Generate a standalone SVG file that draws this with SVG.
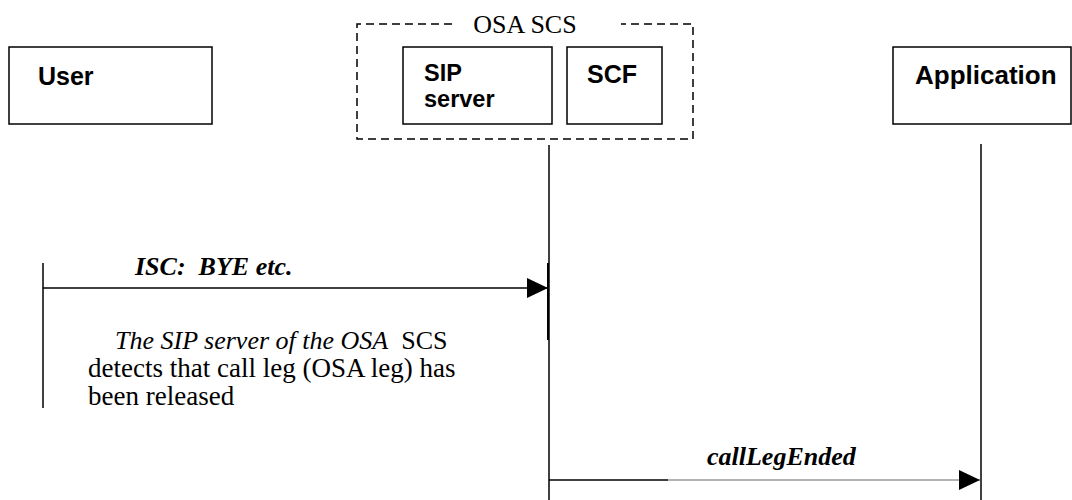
<svg xmlns="http://www.w3.org/2000/svg" width="1072" height="500" viewBox="0 0 1072 500">
<style>
.box{fill:#fff;stroke:#000;stroke-width:1.5}
.lbl{font-family:"Liberation Sans",Arial,sans-serif;font-weight:bold;font-size:25px;fill:#000}
.ser{font-family:"Liberation Serif","Times New Roman",serif;font-size:26px;fill:#000}
.msg{font-family:"Liberation Serif","Times New Roman",serif;font-size:26px;font-weight:bold;font-style:italic;fill:#000}
.life{stroke:#000;stroke-width:1.5;fill:none}
.dash{fill:none;stroke:#000;stroke-width:1.5;stroke-dasharray:8,5}
</style>
<defs>
<marker id="ah" viewBox="0 0 21 20" refX="21" refY="10" markerWidth="21" markerHeight="20" markerUnits="userSpaceOnUse" orient="auto">
<path d="M0,0 L21,10 L0,20 Z" fill="#000"/>
</marker>
</defs>
<rect width="1072" height="500" fill="#fff"/>
<g id="osa-scs">
<path class="dash" d="M452,24 L357,24 L357,139 L693,139 L693,24 L621,24"/>
<text class="ser" x="525" y="33" text-anchor="middle">OSA SCS</text>
</g>
<g id="user">
<rect class="box" x="9" y="47" width="203" height="77"/>
<text class="lbl" x="38" y="85">User</text>
</g>
<g id="sip-server">
<rect class="box" x="403" y="47" width="149" height="77"/>
<text class="lbl" x="424" y="81" style="font-size:23.5px">SIP</text>
<text class="lbl" x="424" y="107" style="font-size:23.5px">server</text>
</g>
<g id="scf">
<rect class="box" x="567" y="47" width="95" height="77"/>
<text class="lbl" x="587" y="83">SCF</text>
</g>
<g id="application">
<rect class="box" x="893" y="47" width="178" height="77"/>
<text class="lbl" x="915" y="84" style="font-size:26px">Application</text>
</g>
<g id="connectors">
<line class="life" x1="549" y1="145" x2="549" y2="500"/>
<line class="life" x1="548" y1="263" x2="548" y2="340" style="stroke-width:2"/>
<line class="life" x1="981" y1="144" x2="981" y2="500"/>
<line class="life" x1="43" y1="263" x2="43" y2="408"/>
<line x1="43" y1="288" x2="548" y2="288" stroke="#000" stroke-width="1.5" marker-end="url(#ah)"/>
<text class="msg" x="135" y="275" xml:space="preserve">ISC:  BYE etc.</text>
<line x1="549" y1="480" x2="668" y2="480" stroke="#000" stroke-width="1.5"/>
<line x1="668" y1="480" x2="980" y2="480" stroke="#666" stroke-width="1" marker-end="url(#ah)"/>
<text class="msg" x="707" y="465">callLegEnded</text>
</g>
<g id="note">
<text class="ser" x="115" y="349" xml:space="preserve"><tspan font-style="italic">The SIP server of the OSA</tspan>  SCS</text>
<text class="ser" x="88" y="377" style="font-size:27px">detects that call leg (OSA leg) has</text>
<text class="ser" x="88" y="405" style="font-size:27px">been released</text>
</g>
</svg>
